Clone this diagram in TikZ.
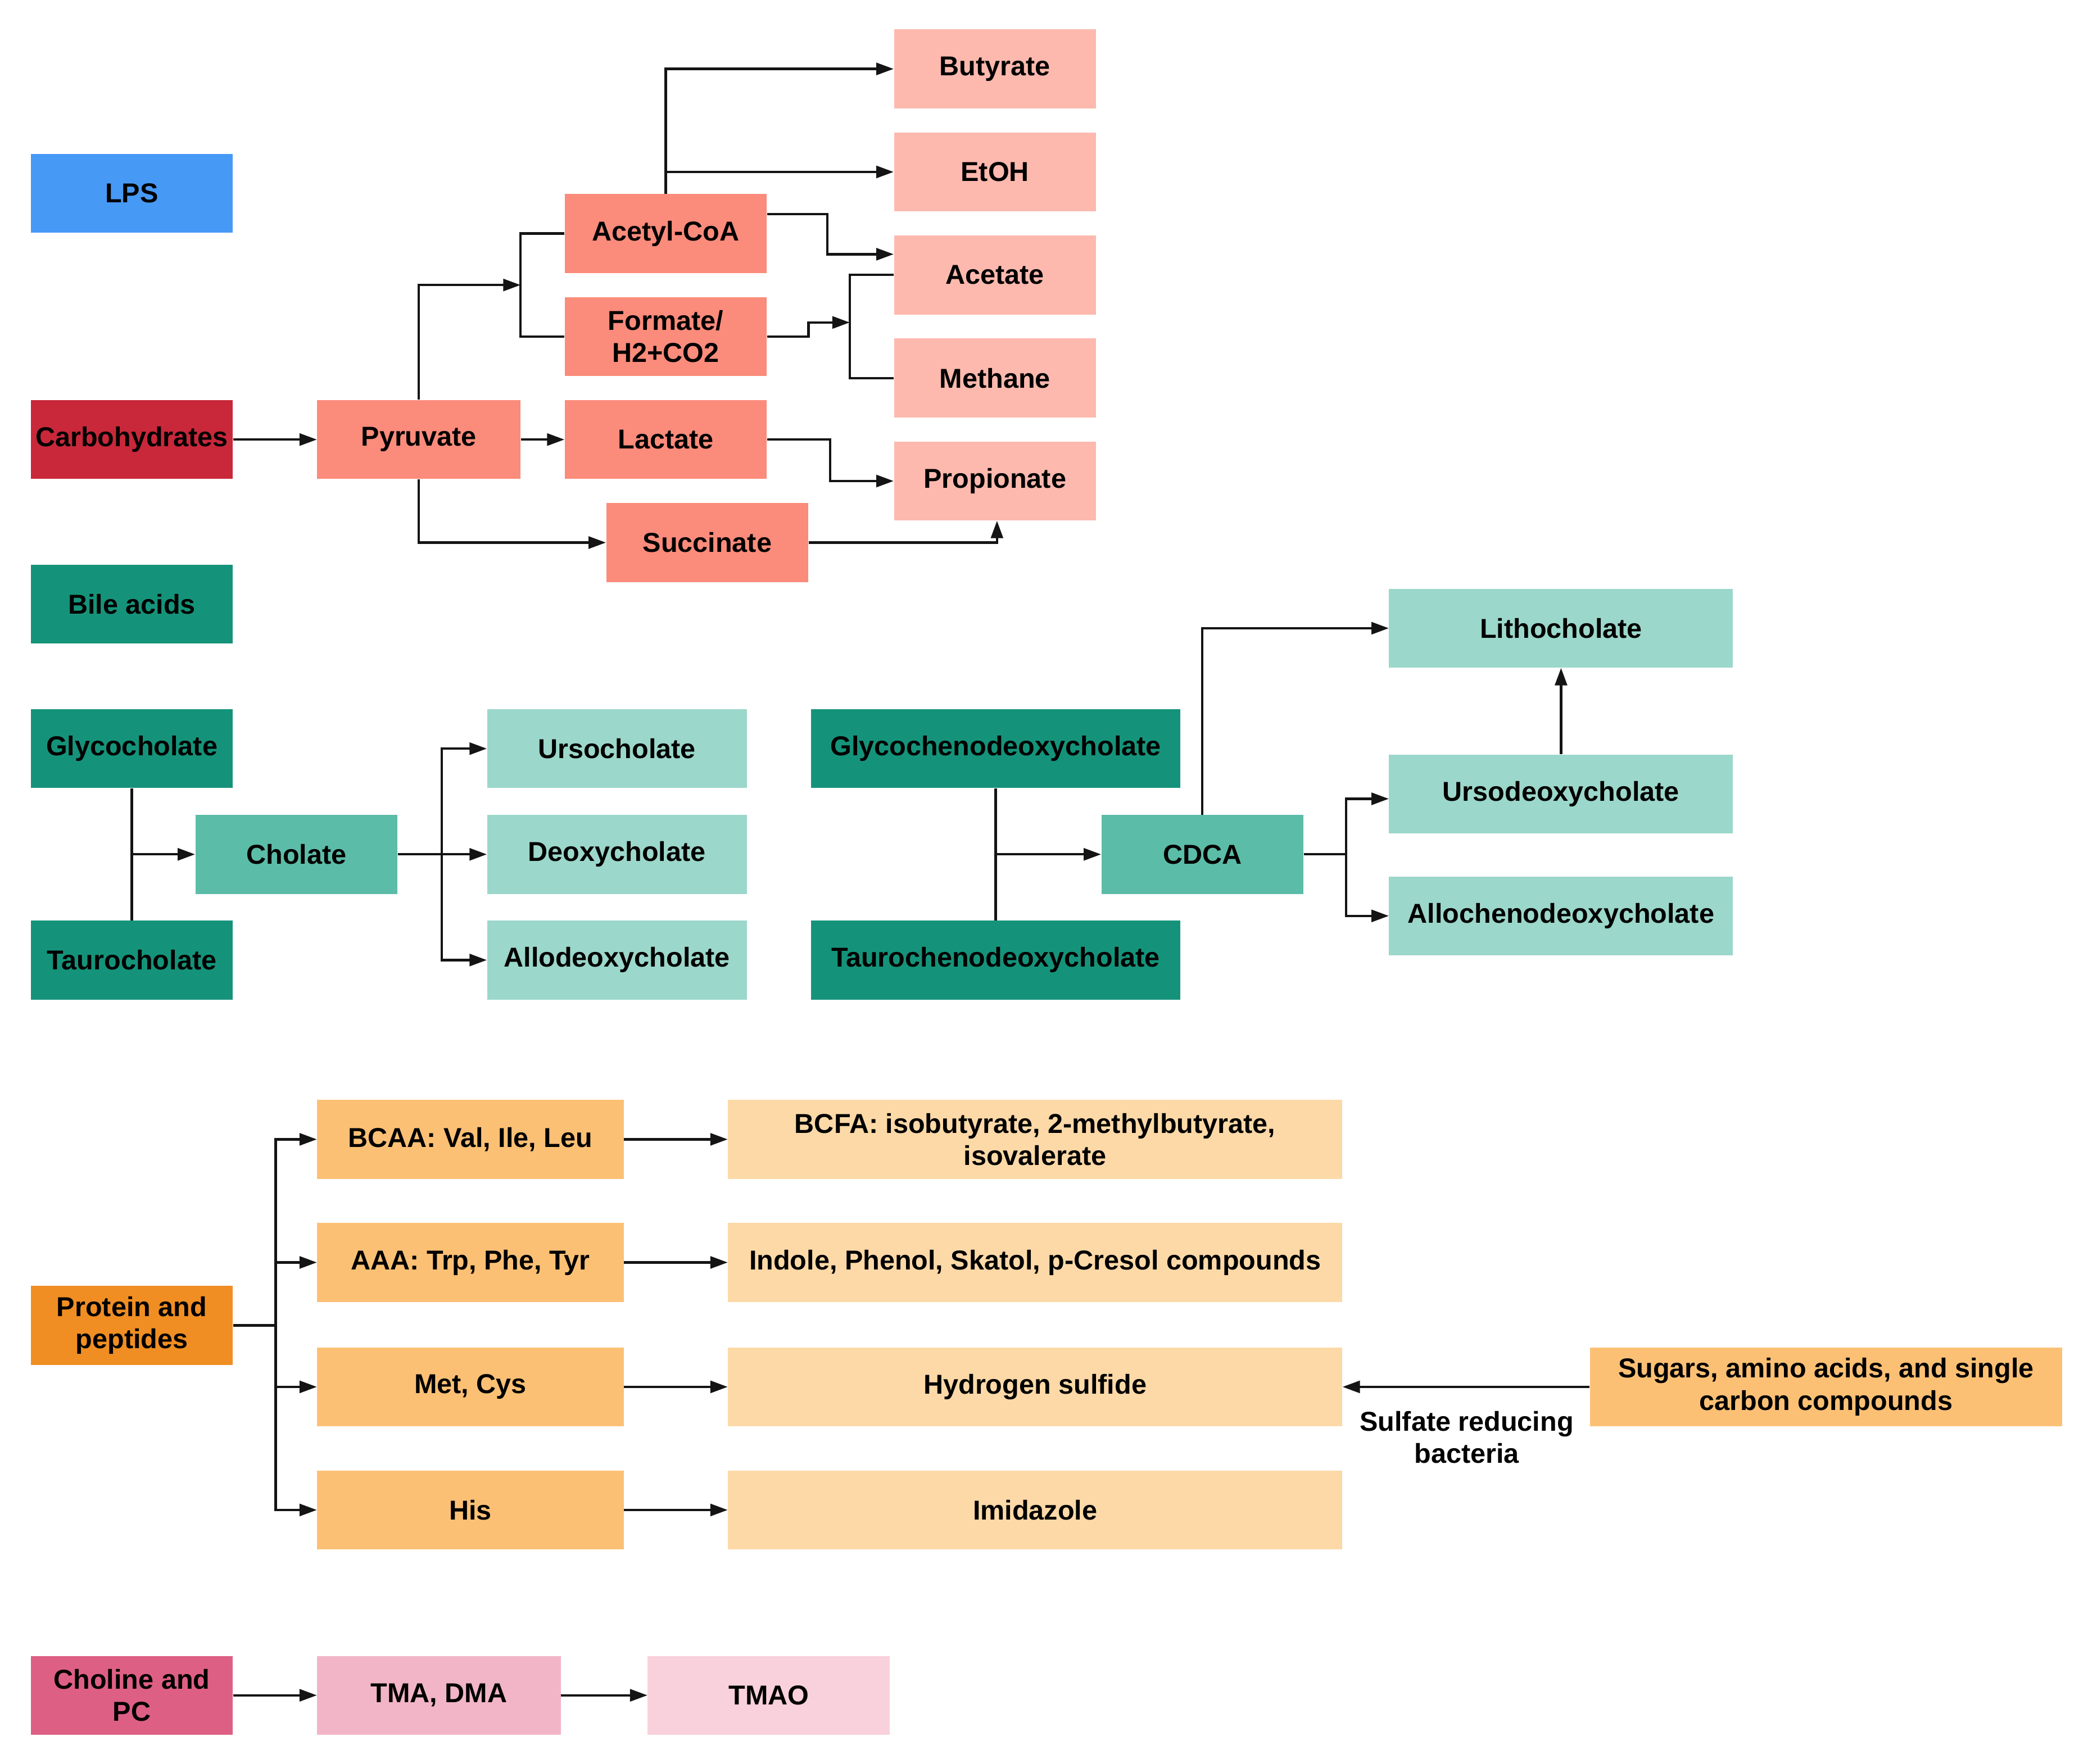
\documentclass[tikz,border=0pt]{standalone}
\usepackage{fontspec}
\setmainfont{Liberation Sans}
\usetikzlibrary{arrows.meta,calc}
\definecolor{cBlue}{HTML}{4799F6}
\definecolor{cRed}{HTML}{C8283A}
\definecolor{cSal}{HTML}{FB8B7B}
\definecolor{cSalL}{HTML}{FDB9AE}
\definecolor{cTealD}{HTML}{15937A}
\definecolor{cTealM}{HTML}{5BBCA8}
\definecolor{cTealL}{HTML}{9BD7CA}
\definecolor{cOrD}{HTML}{F08E23}
\definecolor{cOrM}{HTML}{FCC075}
\definecolor{cOrL}{HTML}{FDD9A7}
\definecolor{cPkD}{HTML}{DE5F84}
\definecolor{cPkM}{HTML}{F2B5C8}
\definecolor{cPkL}{HTML}{F8D1DC}
\tikzset{
  box/.style={rectangle, inner sep=0pt, minimum height=59pt, align=center, text=black,
    font=\bfseries\fontsize{20.4}{24}\selectfont},
  lbl/.style={inner sep=0pt, align=center, text=black, font=\bfseries\fontsize{20.4}{24}\selectfont},
  conn/.style={line width=1.8pt, draw=black!92},
  arr/.style={conn, -{Triangle[length=13pt,width=9pt]}},
}
\begin{document}
\begin{tikzpicture}[x=1pt,y=-1pt]
\useasboundingbox (0,0) rectangle (1567,1318);
% left column
\node[box, fill=cBlue, minimum width=151pt] (lps) at (98.5,144.5) {LPS};
\node[box, fill=cRed, minimum width=151pt] (carb) at (98.5,328.5) {Carbohydrates};
\node[box, fill=cTealD, minimum width=151pt] (bile) at (98.5,451.5) {Bile acids};
\node[box, fill=cTealD, minimum width=151pt] (glyco) at (98.5,559.5) {Glycocholate};
\node[box, fill=cTealD, minimum width=151pt] (tauro) at (98.5,717.5) {Taurocholate};
\node[box, fill=cOrD, minimum width=151pt] (prot) at (98.5,990.5) {Protein and\\peptides};
\node[box, fill=cPkD, minimum width=151pt] (chol) at (98.5,1267) {Choline and\\PC};
% carbohydrates
\node[box, fill=cSal, minimum width=152pt] (pyr) at (313,328.5) {Pyruvate};
\node[box, fill=cSal, minimum width=151pt] (lac) at (497.5,328.5) {Lactate};
\node[box, fill=cSal, minimum width=151pt] (acoa) at (497.5,174.5) {Acetyl-CoA};
\node[box, fill=cSal, minimum width=151pt] (form) at (497.5,251.5) {Formate/\\H2+CO2};
\node[box, fill=cSal, minimum width=151pt] (succ) at (528.5,405.5) {Succinate};
\node[box, fill=cSalL, minimum width=151pt] (but) at (743.5,51.5) {Butyrate};
\node[box, fill=cSalL, minimum width=151pt] (etoh) at (743.5,128.5) {EtOH};
\node[box, fill=cSalL, minimum width=151pt] (acet) at (743.5,205.5) {Acetate};
\node[box, fill=cSalL, minimum width=151pt] (meth) at (743.5,282.5) {Methane};
\node[box, fill=cSalL, minimum width=151pt] (prop) at (743.5,359.5) {Propionate};
% bile acids
\node[box, fill=cTealM, minimum width=151pt] (cholate) at (221.5,638.5) {Cholate};
\node[box, fill=cTealL, minimum width=194pt] (urso) at (461,559.5) {Ursocholate};
\node[box, fill=cTealL, minimum width=194pt] (deoxy) at (461,638.5) {Deoxycholate};
\node[box, fill=cTealL, minimum width=194pt] (allo) at (461,717.5) {Allodeoxycholate};
\node[box, fill=cTealD, minimum width=276pt] (gcdca) at (744,559.5) {Glycochenodeoxycholate};
\node[box, fill=cTealD, minimum width=276pt] (tcdca) at (744,717.5) {Taurochenodeoxycholate};
\node[box, fill=cTealM, minimum width=151pt] (cdca) at (898.5,638.5) {CDCA};
\node[box, fill=cTealL, minimum width=257pt] (litho) at (1166.5,469.5) {Lithocholate};
\node[box, fill=cTealL, minimum width=257pt] (udca) at (1166.5,593.5) {Ursodeoxycholate};
\node[box, fill=cTealL, minimum width=257pt] (acdca) at (1166.5,684.5) {Allochenodeoxycholate};
% protein
\node[box, fill=cOrM, minimum width=229pt] (bcaa) at (351.5,851.5) {BCAA: Val, Ile, Leu};
\node[box, fill=cOrM, minimum width=229pt] (aaa) at (351.5,943.5) {AAA: Trp, Phe, Tyr};
\node[box, fill=cOrM, minimum width=229pt] (met) at (351.5,1036.5) {Met, Cys};
\node[box, fill=cOrM, minimum width=229pt] (his) at (351.5,1128.5) {His};
\node[box, fill=cOrL, minimum width=459pt] (bcfa) at (773.5,851.5) {BCFA: isobutyrate, 2-methylbutyrate,\\isovalerate};
\node[box, fill=cOrL, minimum width=459pt] (indole) at (773.5,943.5) {Indole, Phenol, Skatol, p-Cresol compounds};
\node[box, fill=cOrL, minimum width=459pt] (h2s) at (773.5,1036.5) {Hydrogen sulfide};
\node[box, fill=cOrL, minimum width=459pt] (imid) at (773.5,1128.5) {Imidazole};
\node[box, fill=cOrM, minimum width=353pt] (sugars) at (1364.5,1036.5) {Sugars, amino acids, and single\\carbon compounds};
\node[lbl] (srb) at (1096,1074) {Sulfate reducing\\bacteria};
% choline
\node[box, fill=cPkM, minimum width=182pt] (tma) at (328,1267) {TMA, DMA};
\node[box, fill=cPkL, minimum width=181pt] (tmao) at (574.5,1267) {TMAO};
% coordinates
\coordinate (fk1) at (389,213);
\coordinate (b1) at (389,174.5);
\coordinate (b2) at (389,251.5);
\coordinate (fk2) at (635,241);
\coordinate (b3) at (635,205.5);
\coordinate (b4) at (635,282.5);
\coordinate (fk3) at (330,638.5);
\coordinate (fk4) at (1006,638.5);
\coordinate (fk5) at (206,990.5);
% carbohydrate connectors
\draw[arr] (carb.east) -- (pyr.west);
\draw[arr] (pyr.east) -- (lac.west);
\draw[arr] (pyr.north) |- (fk1);
\draw[conn] (acoa.west) -- (b1) -- (b2) -- (form.west);
\draw[arr] (pyr.south) |- (succ.west);
\draw[arr] (succ.east) -| ([xshift=1.5pt]prop.south);
\draw[arr] (acoa.north) |- (but.west);
\draw[arr] (acoa.north |- etoh.west) -- (etoh.west);
\draw[arr] ([yshift=14.5pt]acoa.east) -- ++(45,0) |- ([yshift=15.5pt]acet.west);
\draw[arr] (form.east) -- ++(31,0) |- (fk2);
\draw[conn] (acet.west) -- (b3) -- (b4) -- (meth.west);
\draw[arr] (lac.east) -- ++(47,0) |- (prop.west);
% bile connectors
\draw[conn] (glyco.south) -- (tauro.north);
\draw[arr] (glyco.south |- cholate.west) -- (cholate.west);
\draw[arr] (cholate.east) -- (deoxy.west);
\draw[arr] (fk3) |- (urso.west);
\draw[arr] (fk3) |- (allo.west);
\draw[conn] (gcdca.south) -- (tcdca.north);
\draw[arr] (gcdca.south |- cdca.west) -- (cdca.west);
\draw[arr] (cdca.north) |- (litho.west);
\draw[conn] (cdca.east) -- (fk4);
\draw[arr] (fk4) |- ([yshift=-3.5pt]udca.west);
\draw[arr] (fk4) |- (acdca.west);
\draw[arr] (udca.north) -- (litho.south);
% protein connectors
\draw[conn] (prot.east) -- (fk5);
\draw[arr] (fk5) |- (bcaa.west);
\draw[arr] (fk5) |- (aaa.west);
\draw[arr] (fk5) |- (met.west);
\draw[arr] (fk5) |- (his.west);
\draw[arr] (bcaa.east) -- (bcfa.west);
\draw[arr] (aaa.east) -- (indole.west);
\draw[arr] (met.east) -- (h2s.west);
\draw[arr] (his.east) -- (imid.west);
\draw[arr] (sugars.west) -- (h2s.east);
% choline connectors
\draw[arr] (chol.east) -- (tma.west);
\draw[arr] (tma.east) -- (tmao.west);
\end{tikzpicture}
\end{document}
